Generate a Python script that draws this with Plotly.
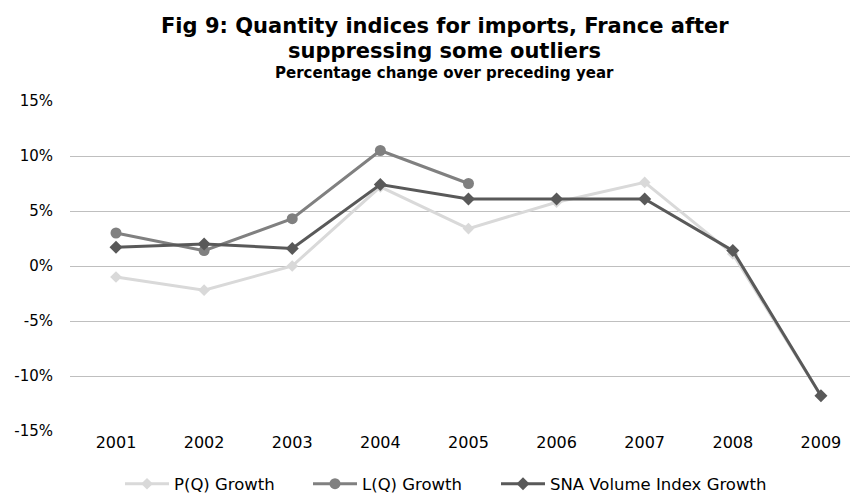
import plotly.graph_objects as go

# Annual growth of import quantity indices, France (percent)
years = ["2001", "2002", "2003", "2004", "2005", "2006", "2007", "2008", "2009"]
pq_growth = [-1.0, -2.2, 0.0, 7.2, 3.4, 5.8, 7.6, 1.1, -11.8]
lq_growth = [3.0, 1.4, 4.3, 10.5, 7.5, None, None, None, None]
sna_growth = [1.7, 2.0, 1.6, 7.4, 6.1, 6.1, 6.1, 1.4, -11.8]

y_ticks = [-15, -10, -5, 0, 5, 10, 15]
y_tick_labels = [f"{v}%" for v in y_ticks]

fig = go.Figure()

fig.add_trace(go.Scatter(
    x=years, y=pq_growth, name="P(Q) Growth", mode="lines+markers",
    line=dict(color="#d9d9d9", width=3),
    marker=dict(symbol="diamond", size=9, color="#d9d9d9"),
    legend="legend",
))
fig.add_trace(go.Scatter(
    x=years, y=lq_growth, name="L(Q) Growth", mode="lines+markers",
    line=dict(color="#808080", width=3),
    marker=dict(symbol="circle", size=11, color="#808080"),
    legend="legend2",
))
fig.add_trace(go.Scatter(
    x=years, y=sna_growth, name="SNA Volume Index Growth", mode="lines+markers",
    line=dict(color="#595959", width=3),
    marker=dict(symbol="diamond", size=10, color="#595959"),
    legend="legend3",
))

# horizontal centre of the title block, expressed in plot-area fraction
page_mid = (444.5 - 70) / 780


def heading(text, size, centre_y):
    return dict(text=f"<b>{text}</b>", xref="paper", yref="paper",
                x=page_mid, y=1, xanchor="center", yanchor="middle",
                showarrow=False, yshift=101 - centre_y,
                font=dict(family="DejaVu Sans", size=size, color="#000000"))


def legend_box(left_px):
    return dict(
        orientation="h", xref="container", yref="container",
        x=left_px / 850, xanchor="left", y=10 / 494, yanchor="middle",
        itemwidth=44,
        font=dict(family="DejaVu Sans", size=16.5, color="#000000"),
        bgcolor="rgba(0,0,0,0)",
    )


fig.update_layout(
    width=850, height=494,
    margin=dict(l=70, r=0, t=101, b=63),
    paper_bgcolor="white", plot_bgcolor="white",
    showlegend=True,
    annotations=[
        heading("Fig 9: Quantity indices for imports, France after", 21, 25.5),
        heading("suppressing some outliers", 21, 50.5),
        heading("Percentage change over preceding year", 15, 72.5),
    ],
    xaxis=dict(
        type="category", categoryorder="array", categoryarray=years,
        range=[-0.522, 8.33], showgrid=False, zeroline=False, showline=False,
        ticks="", tickfont=dict(family="DejaVu Sans", size=16, color="#000000"),
    ),
    yaxis=dict(
        range=[-15, 15], tickvals=y_ticks, ticktext=y_tick_labels,
        showgrid=True, gridcolor="#bfbfbf", gridwidth=1,
        zeroline=False, showline=False, ticks="",
        ticklabelstandoff=16,
        tickfont=dict(family="DejaVu Sans", size=15, color="#000000"),
    ),
    legend=legend_box(120),
    legend2=legend_box(308),
    legend3=legend_box(496),
)

fig.write_html("out.html")
